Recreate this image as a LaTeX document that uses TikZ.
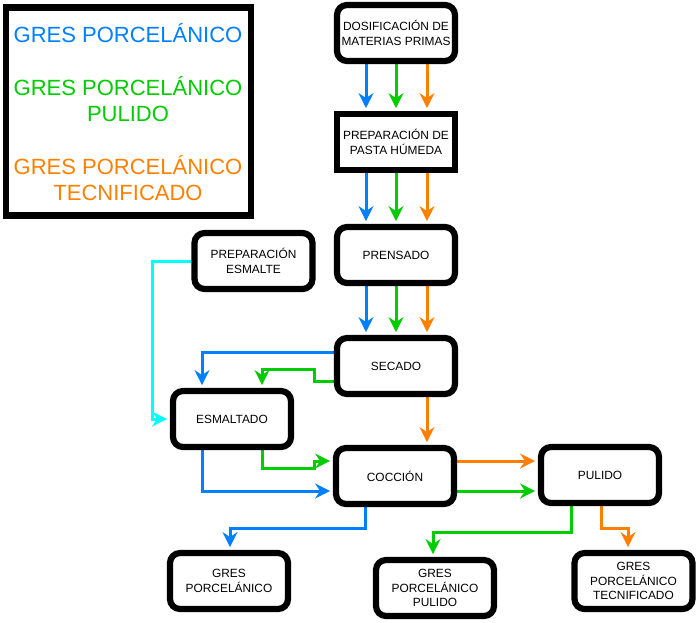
\documentclass[tikz,border=0pt]{standalone}
\usepackage{fontspec}
\setmainfont{Liberation Sans}
\usetikzlibrary{arrows.meta,calc,backgrounds}
\definecolor{cblue}{RGB}{0,127,255}
\definecolor{cgreen}{RGB}{0,204,0}
\definecolor{corange}{RGB}{255,128,0}
\definecolor{ccyan}{RGB}{0,255,255}
\tikzset{
  box/.style={draw=black, line width=6.2pt, rounded corners=10pt, fill=white,
    minimum width=118pt, minimum height=56pt, align=center, inner sep=2pt,
    font=\fontsize{11.9}{14.5}\selectfont},
  sharpbox/.style={box, rounded corners=0pt},
  arr/.style={line width=3pt, shorten >=2.8pt,
    -{Stealth[length=15pt,width=15pt,inset=5pt]}},
  legtext/.style={align=center, font=\fontsize{22}{26.5}\selectfont, inner sep=0pt}
}
\begin{document}
\begin{tikzpicture}[x=1pt,y=-1pt]
\useasboundingbox (0,0) rectangle (696,622);
% legend
\draw[line width=6.2pt] (6,7.5) rectangle (251,215.5);
\node[legtext, text=cblue] (l1) at (128,33) {GRES PORCELÁNICO};
\node[legtext, text=cgreen] (l2) at (128,99) {GRES PORCELÁNICO\\PULIDO};
\node[legtext, text=corange] (l3) at (128,178) {GRES PORCELÁNICO\\TECNIFICADO};
% nodes
\node[box] (dos) at (396,33) {DOSIFICACIÓN DE\\MATERIAS PRIMAS};
\node[sharpbox] (prep) at (396,142) {PREPARACIÓN DE\\PASTA HÚMEDA};
\node[box] (prensado) at (396,255) {PRENSADO};
\node[box] (secado) at (396,366) {SECADO};
\node[box] (prepesm) at (253.5,261) {PREPARACIÓN\\ESMALTE};
\node[box] (esmaltado) at (232,419) {ESMALTADO};
\node[box] (coccion) at (395,476) {COCCIÓN};
\node[box] (pulido) at (600,475) {PULIDO};
\node[box] (gp) at (229,581) {GRES\\PORCELÁNICO};
\node[box] (gpp) at (435,588) {GRES\\PORCELÁNICO\\PULIDO};
\node[box] (gpt) at (633.5,581) {GRES\\PORCELÁNICO\\TECNIFICADO};
\begin{scope}[on background layer]
% vertical triples
\foreach \a/\b in {dos/prep, prep/prensado, prensado/secado}{
  \draw[arr, cblue] (\a.south -| 366,0) -- (\b.north -| 366,0);
  \draw[arr, cgreen] (\a.south -| 396,0) -- (\b.north -| 396,0);
  \draw[arr, corange] (\a.south -| 427,0) -- (\b.north -| 427,0);
}
% secado -> esmaltado
\draw[arr, cblue] (secado.west |- 0,352) -| (esmaltado.north -| 202,0);
\draw[arr, cgreen] (secado.west |- 0,381) -| (314,369) -| (esmaltado.north -| 262,0);
% preparacion esmalte -> esmaltado
\draw[arr, ccyan] (prepesm.west) -| (152,419) -- (esmaltado.west);
% secado -> coccion
\draw[arr, corange] (secado.south -| 427,0) -- (coccion.north -| 427,0);
% esmaltado -> coccion
\draw[arr, cblue] (esmaltado.south -| 202,0) |- (coccion.west |- 0,491);
\draw[arr, cgreen] (esmaltado.south -| 262,0) |- (314,468) |- (coccion.west |- 0,461);
% coccion -> pulido
\draw[arr, corange] (coccion.east |- 0,461) -- (pulido.west |- 0,461);
\draw[arr, cgreen] (coccion.east |- 0,491) -- (pulido.west |- 0,491);
% outputs
\draw[arr, cblue] (coccion.south -| 365,0) |- (300,528) -| (gp.north -| 230,0);
\draw[arr, cgreen] (pulido.south -| 571,0) |- (500,532) -| (gpp.north -| 433,0);
\draw[arr, corange] (pulido.south -| 601,0) |- (615,528) -| (gpt.north -| 628,0);
\end{scope}
\end{tikzpicture}
\end{document}
